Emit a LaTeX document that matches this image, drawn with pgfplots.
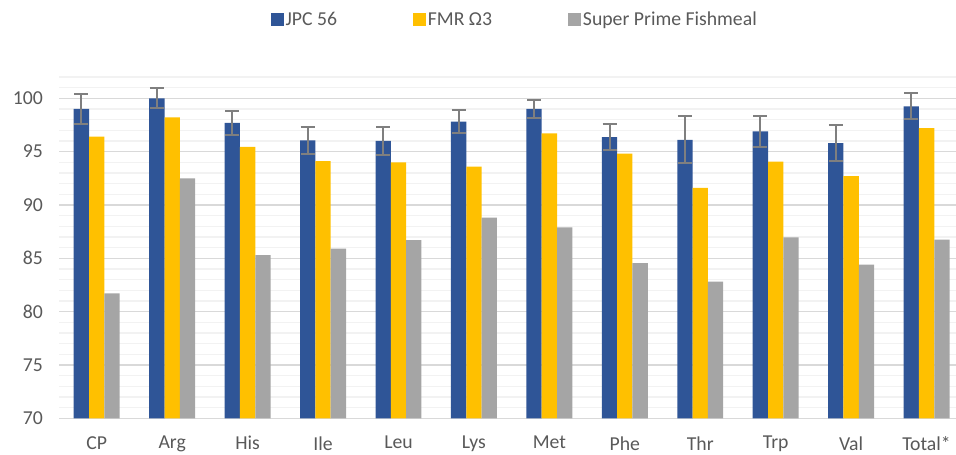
\documentclass[border=0pt]{standalone}
\usepackage{pgfplots}
\pgfplotsset{compat=1.18}
\usepackage{pgfplotstable}
\usepackage{fontspec}
\setmainfont{Carlito}
\definecolor{cblue}{HTML}{2F5597}
\definecolor{cyellow}{HTML}{FFC000}
\definecolor{cgray}{HTML}{A5A5A5}
\definecolor{txt}{HTML}{595959}
\definecolor{errc}{HTML}{7F7F7F}
\pgfplotstableread{
x jpc err fmr spf
0 99.0 1.37 96.4 81.7
1 100.0 0.95 98.2 92.5
2 97.7 1.1 95.45 85.3
3 96.05 1.3 94.1 85.9
4 96.0 1.3 94.0 86.7
5 97.8 1.1 93.6 88.8
6 99.0 0.85 96.7 87.9
7 96.35 1.2 94.8 84.55
8 96.1 2.2 91.6 82.8
9 96.9 1.45 94.05 86.95
10 95.8 1.7 92.7 84.4
11 99.25 1.2 97.2 86.75
}\data
\begin{document}
\begin{tikzpicture}
\path[use as bounding box] (-44.25pt,-27.5pt) rectangle (672.75pt,313.7pt);
\begin{axis}[
  at={(0,0)}, anchor=south west,
  scale only axis, width=672.75pt, height=256pt,
  xmin=-0.5, xmax=11.39, ymin=70, ymax=102,
  ybar=0pt, bar width=0.203,
  xtick=data,
  xticklabels={CP,Arg,His,Ile,Leu,Lys,Met,Phe,Thr,Trp,Val,Total*},
  ytick={70,75,...,100},
  minor ytick={71,72,...,102},
  ymajorgrids, yminorgrids,
  major grid style={draw=black!15, line width=1.1pt},
  minor grid style={draw=black!5, line width=1.1pt},
  axis line style={draw=none},
  major tick length=0pt, minor tick length=0pt,
  tick label style={font=\fontsize{14.8}{17}\selectfont, text=txt},
  xticklabel style={yshift=-10pt},
  yticklabel style={xshift=-8.5pt},
  /pgf/number format/assume math mode=true,
  clip=true,
  legend style={at={(0.508,1.167)}, anchor=center, draw=none, fill=none,
    font=\fontsize{14.8}{17}\selectfont, text=txt, legend columns=3,
    nodes={inner xsep=1.2pt},
    /tikz/every even column/.append style={column sep=56pt}},
  legend image code/.code={\fill[#1] (0pt,-4.9pt) rectangle (9.75pt,4.9pt);},
]
\addplot[fill=cblue, draw=none,
  error bars/.cd, y dir=both, y explicit,
  error bar style={draw=errc, line width=1.5pt},
  error mark options={rotate=90, draw=errc, line width=1.5pt, mark size=5.25pt}]
  table[x=x, y=jpc, y error=err]{\data};
\addplot[fill=cyellow, draw=none] table[x=x, y=fmr]{\data};
\addplot[fill=cgray, draw=none] table[x=x, y=spf]{\data};
\legend{JPC 56, FMR Ω3, Super Prime Fishmeal}
\end{axis}
\end{tikzpicture}
\end{document}
